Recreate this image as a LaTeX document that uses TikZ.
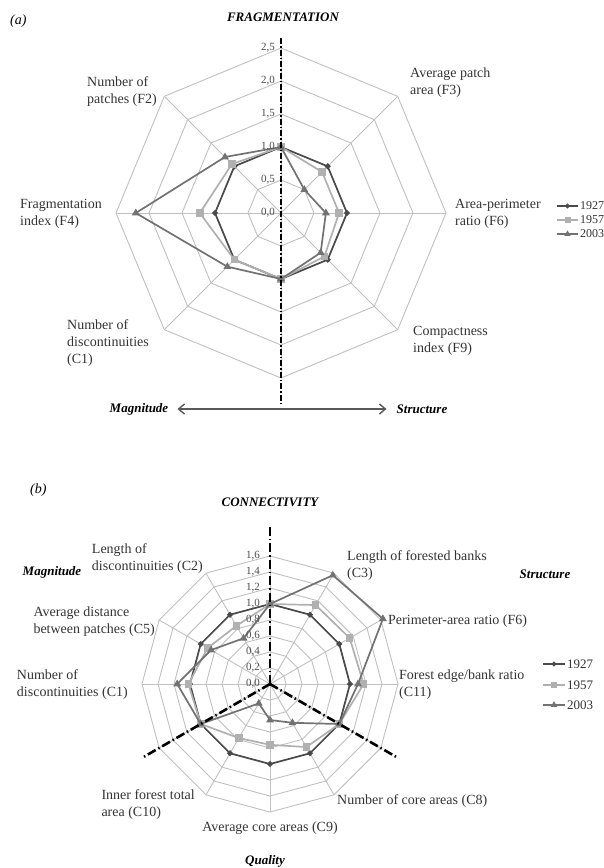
\documentclass[tikz,border=0pt]{standalone}
\usepackage{fontspec}
\setmainfont{Liberation Serif}
\usetikzlibrary{shapes.geometric,arrows.meta}
\definecolor{gridgray}{HTML}{C0C0C0}
\definecolor{c27}{HTML}{4A4A4A}
\definecolor{c57}{HTML}{B0B0B0}
\definecolor{c03}{HTML}{727272}
\tikzset{
  lbl/.style={font=\fontsize{14}{17}\selectfont, align=left, inner sep=0pt, text=black!80},
  axtitle/.style={font=\fontsize{13}{15}\selectfont\bfseries\itshape, inner sep=0pt},
  panel/.style={font=\fontsize{14}{17}\selectfont\itshape, inner sep=0pt, anchor=west},
  tick/.style={font=\fontsize{11}{12}\selectfont, inner sep=0pt, text=black!70, anchor=east},
  gridline/.style={gridgray, line width=0.9pt},
  ser27/.style={c27, line width=1.7pt},
  ser57/.style={c57, line width=1.7pt},
  ser03/.style={c03, line width=1.7pt},
  mk27/.style={diamond, fill=c27, inner sep=0pt, minimum size=6.5pt},
  mk57/.style={rectangle, fill=c57, inner sep=0pt, minimum size=7.5pt},
  mk03/.style={regular polygon, regular polygon sides=3, fill=c03, inner sep=0pt, minimum size=9pt},
  dividerA/.style={black, line width=1.6pt, dash pattern=on 6pt off 2pt on 1.5pt off 2pt},
  dividerB/.style={black, line width=2.6pt, dash pattern=on 9pt off 3pt on 1.5pt off 3pt},
}
% one series of a radar chart: unit, year, angle/value list (top axis is 1), name
\newcommand\radarseries[4]{%
  \draw[ser#2] (90:#1) \foreach \a/\v in {#3}{ -- (\a:\v*#1)} -- cycle;
  \node[mk#2] (#4-0) at (90:#1) {};
  \foreach \a/\v [count=\i] in {#3} \node[mk#2] (#4-\i) at (\a:\v*#1) {};
}
\begin{document}
\begin{tikzpicture}[x=1pt, y=1pt]
\useasboundingbox (0,0) rectangle (604,-868);
%panel (a)
\node[panel] (pa) at (10,-21) {(a)};
\node[axtitle] (fragTitle) at (283,-17) {FRAGMENTATION};
\begin{scope}[shift={(281,-213)}]
  %grid
  \foreach \r in {1,...,5}
    \draw[gridline] (90:\r*33) \foreach \a in {45,0,...,-225}{ -- (\a:\r*33)} -- cycle;
  \foreach \a in {90,45,...,-225} \draw[gridline] (0,0) -- (\a:165);
  %series
  \radarseries{66}{27}{45/1,0/1,-45/1,-90/1,-135/1,180/1,135/1}{a27}
  \radarseries{66}{57}{45/.88,0/.88,-45/.93,-90/1,-135/1,180/1.23,135/1.05}{a57}
  \radarseries{66}{03}{45/.5,0/.68,-45/.85,-90/1,-135/1.15,180/2.2,135/1.2}{a03}
  %scale
  \foreach \k/\t in {0/{0,0},1/{0,5},2/{1,0},3/{1,5},4/{2,0},5/{2,5}}
    \node[tick] (ta\k) at (-6,\k*33) {\t};
\end{scope}
\coordinate (aTop) at (281,-38);
\coordinate (aBot) at (281,-404);
\draw[dividerA] (aTop) -- (aBot);
%indicators
\node[lbl, anchor=east] (lF2) at (157,-92) {Number of\\patches (F2)};
\node[lbl, anchor=west] (lF3) at (410,-83) {Average patch\\area (F3)};
\node[lbl, anchor=west] (lF6) at (455,-214) {Area-perimeter\\ratio (F6)};
\node[lbl, anchor=west] (lF4) at (20,-214) {Fragmentation\\index (F4)};
\node[lbl, anchor=west] (lC1a) at (67,-343) {Number of\\discontinuities\\(C1)};
\node[lbl, anchor=west] (lF9) at (413,-341) {Compactness\\index (F9)};
\node[axtitle] (magA) at (139,-409) {Magnitude};
\node[axtitle] (strA) at (422,-409) {Structure};
\draw[<->, >={Straight Barb[length=6pt,width=10pt]}, line width=1.4pt, black!65] ([xshift=9pt]magA.east) -- ([xshift=-10pt]strA.west);
%legend
\foreach \s/\t/\y [count=\i] in {27/1927/206, 57/1957/220, 03/2003/234} {
  \draw[ser\s] (557,-\y) -- (578,-\y);
  \node[mk\s, scale=0.8] (lam\i) at (567.5,-\y) {};
  \node[font=\fontsize{12}{14}\selectfont, anchor=west, inner sep=0pt, text=black!80] (lat\i) at (580,-\y) {\t};
}

%panel (b)
\node[panel] (pb) at (30,-490) {(b)};
\node[axtitle] (conTitle) at (270,-502) {CONNECTIVITY};
\begin{scope}[shift={(270,-684)}]
  %grid
  \foreach \r in {1,...,8}
    \draw[gridline] (90:\r*16) \foreach \a in {60,30,...,-240}{ -- (\a:\r*16)} -- cycle;
  \foreach \a in {90,60,...,-240} \draw[gridline] (0,0) -- (\a:128);
  %series
  \radarseries{80}{27}{60/1,30/1,0/1,-30/1,-60/1,-90/1,-120/1,-150/1,180/1,150/1,120/1}{b27}
  \radarseries{80}{57}{60/1.14,30/1.15,0/1.17,-30/1,-60/.91,-90/.76,-120/.78,-150/1,180/1.02,150/.9,120/.84}{b57}
  \radarseries{80}{03}{60/1.57,30/1.63,0/1.1,-30/1,-60/.56,-90/.45,-120/.28,-150/1,180/1.16,150/.85,120/.66}{b03}
  %scale
  \foreach \k/\t in {0/{0,0},1/{0,2},2/{0,4},3/{0,6},4/{0,8},5/{1,0},6/{1,2},7/{1,4},8/{1,6}}
    \node[tick] (tb\k) at (-10,\k*16) {\t};
  %dividers
  \coordinate (bc) at (0,0);
  \coordinate (bTop) at (90:158);
  \coordinate (bLeft) at (-150:148);
  \coordinate (bRight) at (-30:148);
  \draw[dividerB] (bc) -- (bTop);
  \draw[dividerB] (bc) -- (bLeft);
  \draw[dividerB] (bc) -- (bRight);
\end{scope}
%indicators
\node[lbl, anchor=east] (lC2) at (203,-559) {Length of\\discontinuities (C2)};
\node[axtitle] (magB) at (52,-572) {Magnitude};
\node[lbl, anchor=west] (lC3) at (347,-566) {Length of forested banks\\(C3)};
\node[axtitle] (strB) at (545,-574) {Structure};
\node[lbl, anchor=west] (lF6b) at (388,-621) {Perimeter-area ratio (F6)};
\node[lbl, anchor=west] (lC11) at (399,-685) {Forest edge/bank ratio\\(C11)};
\node[lbl, anchor=east] (lC1b) at (128,-685) {Number of\\discontinuities (C1)};
\node[lbl, anchor=east] (lC5) at (155,-622) {Average distance\\between patches (C5)};
\node[lbl, anchor=east] (lC10) at (195,-805) {Inner forest total\\area (C10)};
\node[lbl] (lC9) at (270,-828) {Average core areas (C9)};
\node[lbl, anchor=west] (lC8) at (337,-801) {Number of core areas (C8)};
\node[axtitle] (qual) at (265,-861) {Quality};
%legend
\foreach \s/\t/\y [count=\i] in {27/1927/664, 57/1957/685, 03/2003/705} {
  \draw[ser\s] (543,-\y) -- (565,-\y);
  \node[mk\s, scale=0.85] (lbm\i) at (554,-\y) {};
  \node[font=\fontsize{13}{15}\selectfont, anchor=west, inner sep=0pt, text=black!80] (lbt\i) at (567,-\y) {\t};
}
\end{tikzpicture}
\end{document}
